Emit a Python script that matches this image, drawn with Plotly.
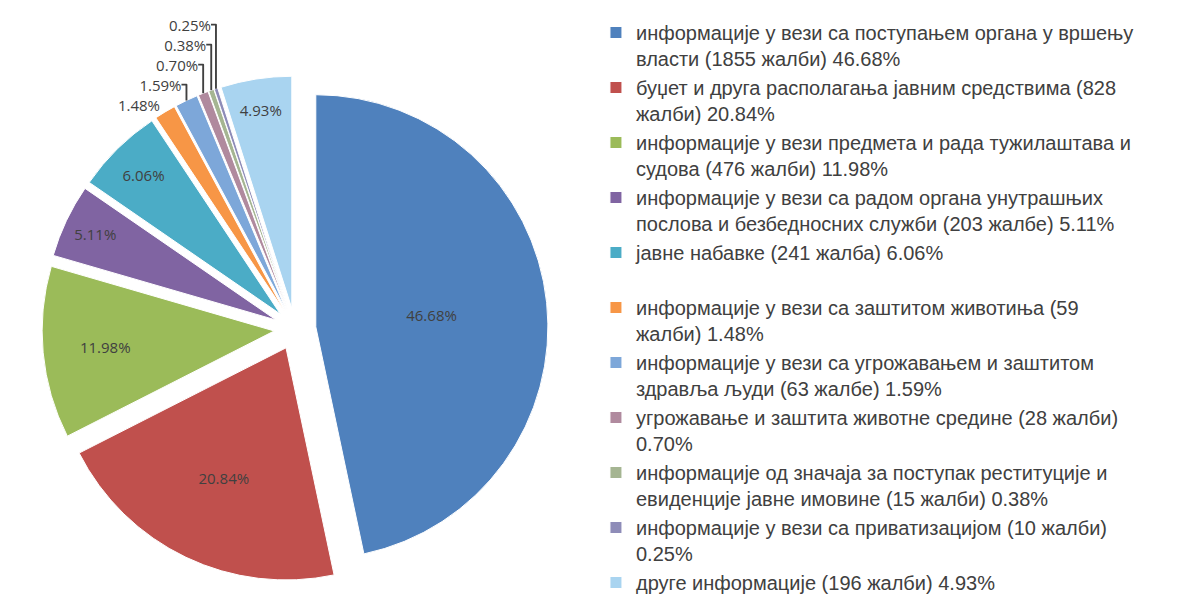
import plotly.graph_objects as go

categories = [
    "информације у вези са поступањем органа у вршењу<br>власти (1855 жалби) 46.68%",
    "буџет и друга располагања јавним средствима (828<br>жалби) 20.84%",
    "информације у вези предмета и рада тужилаштава и<br>судова (476 жалби) 11.98%",
    "информације у вези са радом органа унутрашњих<br>послова и безбедносних служби (203 жалбе) 5.11%",
    "јавне набавке (241 жалба) 6.06%<br> ",
    "информације у вези са заштитом животиња (59<br>жалби) 1.48%",
    "информације у вези са угрожавањем и заштитом<br>здравља људи (63 жалбе) 1.59%",
    "угрожавање и заштита животне средине (28 жалби)<br>0.70%",
    "информације од значаја за поступак реституције и<br>евиденције јавне имовине (15 жалби) 0.38%",
    "информације у вези са приватизацијом (10 жалби)<br>0.25%",
    "друге информације (196 жалби) 4.93%",
]
values = [1855, 828, 476, 203, 241, 59, 63, 28, 15, 10, 196]
colors = ["#4F81BD", "#C0504D", "#9BBB59", "#8064A2", "#4BACC6", "#F79646",
          "#7DA7D9", "#B08A9E", "#A5B592", "#8E8CB8", "#A9D4F0"]
text_pos = ["inside", "inside", "inside", "inside", "inside", "outside",
            "outside", "outside", "outside", "outside", "inside"]

fig = go.Figure(go.Pie(
    labels=categories,
    values=values,
    sort=False,
    direction="clockwise",
    rotation=0,
    pull=[0.09] * len(values),
    marker=dict(colors=colors, line=dict(color="white", width=1)),
    texttemplate="%{percent:.2%}",
    textposition=text_pos,
    insidetextorientation="horizontal",
    textfont=dict(family="Open Sans", size=15, color="#404040"),
    insidetextfont=dict(family="Open Sans", size=15, color="#404040"),
    outsidetextfont=dict(family="Open Sans", size=15, color="#404040"),
    domain=dict(x=[0.0286, 0.4542], y=[0.0369, 0.8859]),
    automargin=False,
    hoverinfo="label+percent",
))

fig.update_layout(
    width=1189, height=596,
    margin=dict(l=0, r=0, t=0, b=0, autoexpand=False),
    paper_bgcolor="white",
    showlegend=True,
    legend=dict(
        x=0.4945, y=0.9916, xanchor="left", yanchor="top",
        xref="container", yref="container",
        maxheight=1.0,
        font=dict(family="Liberation Sans", size=20, color="#404040"),
        valign="top", itemwidth=30, tracegroupgap=0,
        bgcolor="rgba(0,0,0,0)", borderwidth=0,
    ),
)

fig.write_html("out.html")
